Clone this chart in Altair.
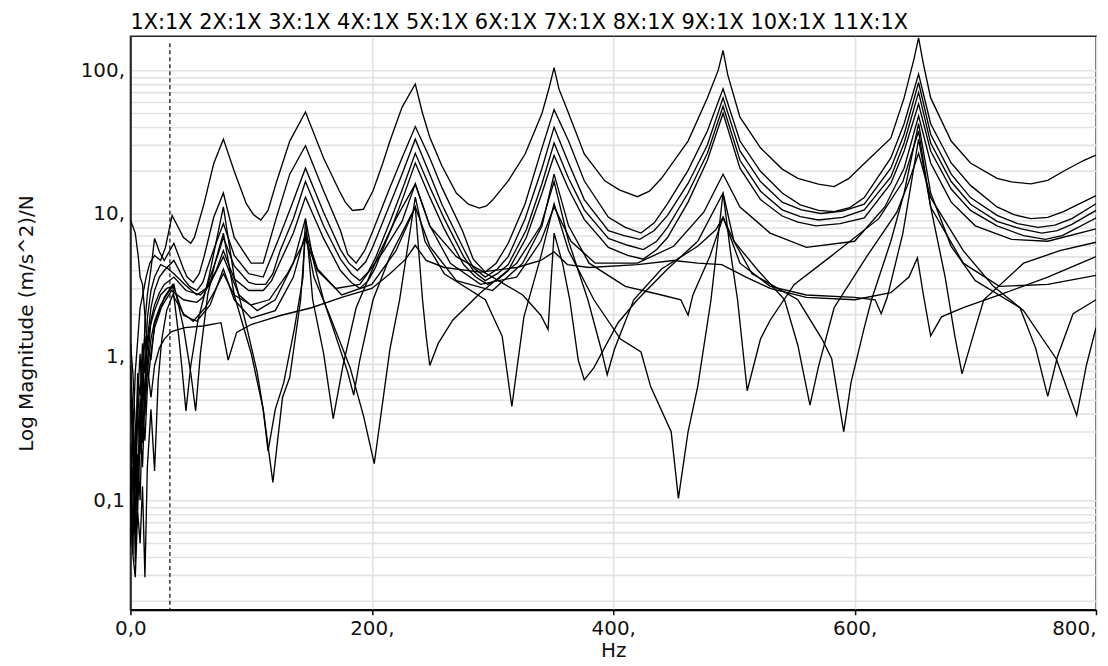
import altair as alt
import pandas as pd

title_text = "1X:1X 2X:1X 3X:1X 4X:1X 5X:1X 6X:1X 7X:1X 8X:1X 9X:1X 10X:1X 11X:1X"
curve_names = ["1X:1X", "2X:1X", "3X:1X", "4X:1X", "5X:1X", "6X:1X",
               "7X:1X", "8X:1X", "9X:1X", "10X:1X", "11X:1X"]
cursor_hz = [32.7]
x_ticks = [0, 200, 400, 600, 800]
y_grid = [0.02, 0.03, 0.04, 0.05, 0.06, 0.07, 0.08, 0.09,
          0.1, 0.2, 0.3, 0.4, 0.5, 0.6, 0.7, 0.8, 0.9,
          1, 2, 3, 4, 5, 6, 7, 8, 9,
          10, 20, 30, 40, 50, 60, 70, 80, 90, 100]

# (Hz, magnitude) pairs
c01 = [(0,0.5),(2,0.26),(4,0.78),(6,1.3),(8,2.2),(10,2.65),(13,3.6),(16,4.5),(20,5.1),(25,4.7),(29,5.8),(34.5,9.7),(44,6.8),(50,6.2),(53,6.8),(61,11.7),(69,22.3),(77,33),(86,19.7),(96,11.7),(102,9.8),(108,9),(114,10.5),(121,16.6),(132,32),(145,51),(160,24.4),(173,14.4),(178,12),(184,10.5),(193,10.7),(201,14.4),(209,22.3),(215,32),(225,55),(236,80),(242,50),(248,34),(258,21.5),(270,13.9),(280,11.6),(289,10.9),(295,11.3),(300,12.4),(313,16.9),(327,26),(341,50),(347,76),(351,104),(355,74),(363,50),(376,26),(393,16.9),(405,14.6),(420,13.1),(430,14.3),(440,17.6),(462,32),(478,64),(487,100),(491,137),(495,92),(505,47),(522,28.7),(540,20.4),(553,17.6),(570,16),(583,15.4),(595,17.5),(608,22.3),(630,33.5),(641,64),(649,118),(653,168),(657,110),(663,64),(680,32),(696,22.5),(718,17.6),(730,16.6),(746,16.1),(760,17),(773,19.7),(790,23.5),(800,25.5)]
c02 = [(0,0.25),(2,0.066),(4,0.125),(6,0.52),(8,1.05),(10,0.43),(12,1.75),(14,2.7),(17,4.1),(20,6.7),(24,5.4),(28,4.7),(36,6.2),(44,4.1),(47,3.6),(52,3.3),(57,3.8),(61,5),(69,9.4),(77,13.9),(86,6.8),(100,4.5),(110,4.5),(121,9.4),(132,18.8),(145,29.7),(160,14.4),(174,7.6),(180,5.2),(187,4.5),(194,5.5),(201,7.6),(215,15.2),(225,24.4),(236,40.4),(248,24.4),(258,15.2),(275,7.6),(284,4.8),(294,3.9),(303,4.5),(313,6.2),(327,11.7),(341,28.7),(351,53),(363,32),(376,16.9),(396,9.4),(410,8),(423,7.3),(434,8.6),(445,11.7),(462,20),(478,37.6),(491,74),(505,32),(522,19.7),(540,13.9),(555,11.5),(570,10.5),(583,10.3),(596,11),(608,12.9),(630,24.4),(641,42.3),(653,94),(663,42.3),(680,22.5),(696,15.7),(718,11.1),(732,9.8),(746,9.2),(760,9.4),(773,10.3),(800,13.3)]
c03 = [(0,1.25),(2,0.78),(4,0.34),(6,0.1),(8,0.26),(10,0.78),(12,0.52),(14,1.3),(17,2.2),(20,2.9),(24,3.6),(28,4),(36,4.7),(44,3.5),(49,3.1),(55,2.9),(60,3.3),(63,4),(70,5.9),(77,8.5),(86,5.1),(98,3.8),(110,3.6),(122,6.4),(133,11.1),(145,20.7),(160,10.2),(174,5.6),(181,4.5),(188,4),(195,4.6),(201,5.9),(215,11.6),(225,18.8),(236,33),(248,18.8),(258,11.6),(275,5.9),(284,4.2),(294,3.6),(304,4.1),(313,5),(327,9.2),(341,20.7),(351,40),(363,22.5),(376,12.5),(396,7.6),(409,7),(422,6.6),(434,7.6),(445,9.7),(462,16.2),(478,30),(491,64),(505,27.3),(522,16.7),(540,12),(556,10.6),(572,10),(590,10.4),(608,11.6),(630,20.7),(641,35.7),(653,82),(663,35.7),(680,18.8),(696,12.9),(718,9.7),(735,8.5),(752,8),(766,8.3),(780,9.2),(800,11.7)]
c04 = [(0,0.047),(2,0.17),(4,0.075),(6,0.43),(8,0.21),(10,0.97),(12,1.4),(14,0.87),(17,1.8),(20,2.3),(24,2.8),(28,3.2),(36,3.6),(46,2.9),(52,2.8),(58,2.7),(63,3),(66,3.6),(72,5),(77,6.8),(86,4.3),(98,3.3),(104,3.2),(112,3.2),(118,3.8),(124,5.5),(135,9.2),(145,16.7),(160,8.2),(174,4.8),(183,3.8),(190,3.4),(197,3.9),(203,4.9),(216,9.2),(226,15.3),(236,26.3),(248,15.3),(260,9.2),(276,5),(285,3.9),(294,3.4),(304,3.8),(313,4.4),(328,7.7),(341,16.2),(351,31),(363,17.6),(376,10.6),(396,6.7),(412,6),(425,5.6),(436,6.4),(445,8),(462,13.9),(478,26.3),(491,56),(505,23.5),(522,14.3),(540,10.6),(555,9.5),(570,9),(590,9.4),(608,10.6),(630,18),(641,31),(653,70),(663,31),(680,16.7),(696,11.6),(718,8.8),(738,7.8),(755,7.3),(768,7.6),(780,8.4),(800,10.5)]
c05 = [(0,0.6),(2,0.3),(4,0.037),(6,0.125),(8,0.52),(10,0.25),(12,0.69),(14,1.24),(17,0.95),(20,1.7),(24,2.1),(28,2.4),(34,2.9),(44,2.5),(49,2.45),(55,2.4),(60,2.6),(64,3.1),(71,4),(77,5.5),(86,3.5),(98,2.9),(104,2.9),(110,2.9),(117,3.4),(124,4.6),(135,7.3),(145,13),(160,6.7),(174,4),(183,3.3),(190,3),(197,3.4),(203,4.2),(216,7.8),(226,13),(236,22.5),(248,13),(260,7.8),(276,4.4),(286,3.6),(296,3.2),(305,3.5),(313,4),(328,6.8),(341,13.9),(351,25.4),(363,14.8),(376,9.1),(396,5.8),(412,5.1),(425,4.8),(436,5.6),(445,6.8),(462,12),(478,23.5),(491,50),(505,20.7),(522,12.5),(540,9.6),(553,8.7),(568,8.2),(588,8.5),(608,9.3),(630,16.2),(641,27.3),(653,58),(663,27.3),(680,14.8),(696,10.5),(718,8.2),(740,7),(758,6.6),(772,7),(780,7.6),(800,9.3)]
c06 = [(0,0.125),(2,0.042),(4,0.26),(6,0.083),(8,0.34),(10,0.17),(12,0.52),(14,0.77),(17,1.33),(20,1.77),(25,2.3),(30,2.7),(36,3.2),(44,1.6),(50,0.77),(54,0.42),(58,1.06),(64,2.7),(70,4.5),(77,7.3),(86,2.7),(100,1.06),(110,0.43),(118,0.133),(126,0.52),(132,0.72),(141,2.5),(145,7.3),(152,3.6),(165,1.95),(182,0.84),(193,0.39),(202,0.18),(215,1.13),(223,2.5),(236,13),(244,6.4),(260,3.8),(294,2.5),(308,1.39),(316,0.45),(326,1.9),(340,5),(351,11.7),(363,5.5),(384,2.5),(406,1.33),(423,1.08),(431,0.62),(448,0.3),(454,0.103),(462,0.3),(470,0.62),(481,2.5),(491,13.9),(500,6.4),(515,3.8),(553,2.5),(573,1.33),(581,0.97),(591,0.3),(597,0.66),(608,1.6),(614,2.5),(630,6.4),(641,13.9),(653,42.3),(663,13.9),(680,5.9),(700,3.4),(737,2.2),(750,1.15),(760,0.53),(768,1.0),(781,2.0),(800,2.5)]
c07 = [(0,0.87),(2,0.43),(4,0.17),(6,0.6),(8,0.3),(10,0.69),(12,0.39),(14,0.87),(17,0.52),(20,0.87),(24,1.15),(28,1.33),(34,1.5),(45,1.6),(60,1.64),(75,1.73),(81,0.95),(88,1.48),(100,1.68),(125,1.95),(150,2.2),(175,2.6),(200,3.0),(215,3.8),(228,4.8),(236,6),(245,4.7),(260,4.2),(290,3.9),(320,4.2),(340,4.7),(351,5.4),(362,4.4),(380,4.2),(420,4.4),(450,4.7),(470,4.5),(490,4.4),(510,3.6),(530,3.0),(560,2.6),(600,2.5),(630,2.8),(645,3.6),(652,4.9),(657,2.7),(663,1.4),(672,1.9),(690,2.2),(720,2.7),(760,3.6),(800,5)]
c08 = [(0,9),(4,7.3),(6.5,5),(8,3.6),(10,3.2),(12,1.95),(14,1.15),(16,1.6),(20,2.1),(25,2.7),(30,3.0),(35,3.1),(40,1.4),(43,0.78),(46,0.42),(50,0.87),(56,1.8),(65,3.6),(77,11.1),(86,3.6),(95,1.8),(105,0.78),(110,0.43),(114,0.22),(120,0.43),(127,0.66),(136,1.6),(143,3.6),(145,9.2),(152,4.5),(160,2.5),(170,1.4),(180,0.78),(185,0.54),(190,0.95),(201,2.5),(215,5),(228,8.2),(236,11.1),(242,2.5),(245,1.4),(248,0.87),(255,1.24),(267,1.8),(290,2.8),(320,4.5),(340,8.2),(351,16.7),(363,6.4),(379,2.5),(390,1.13),(395,0.75),(401,1.13),(417,2.5),(440,4.1),(470,5.9),(485,7.7),(491,9.4),(500,6.4),(520,4),(542,2.5),(553,1.2),(563,0.46),(570,0.85),(583,2.2),(610,5),(635,10.2),(645,16.7),(653,26.3),(663,12.9),(690,5.5),(715,3.1),(740,2.1),(767,0.97),(784,0.39),(792,0.87),(800,1.6)]
c09 = [(0,0.049),(2,0.43),(4,0.125),(6,0.77),(8,0.52),(10,1.24),(12,0.77),(14,1.85),(17,2.9),(20,3.6),(25,4.4),(30,4.2),(36,3.8),(45,3.2),(55,2.7),(65,3.1),(77,5),(90,2.7),(105,2.1),(120,2.5),(135,4.5),(145,9.2),(151,2.5),(160,1.06),(168,0.37),(176,0.86),(187,2.2),(205,5),(220,9.2),(236,16),(248,8.2),(270,5),(300,3.6),(325,2.7),(340,1.95),(346,1.55),(351,7.3),(358,4.5),(364,2.5),(371,0.95),(376,0.69),(384,0.84),(404,1.73),(420,2.5),(445,4.1),(470,6.4),(491,13.9),(497,5.5),(503,2.5),(511,0.58),(522,1.33),(530,1.8),(550,3.2),(580,5),(620,9.2),(640,16.7),(653,37.6),(663,11.1),(675,3.6),(683,1.4),(689,0.76),(699,1.48),(707,2.5),(740,4.5),(770,5.5),(800,6.3)]
c10 = [(0,0.075),(2,0.34),(4,0.058),(6,0.21),(8,0.1),(10,0.43),(12,0.26),(14,0.6),(17,1.06),(20,1.6),(24,2.0),(28,2.6),(35,3.2),(44,1.95),(55,1.77),(66,2.3),(77,4.1),(86,2.5),(100,1.86),(120,2.1),(135,3.6),(145,7.3),(155,4.1),(175,2.7),(200,3.2),(220,5.5),(236,11.1),(248,5.9),(270,3.4),(300,2.9),(325,4.5),(341,8.2),(351,18.8),(363,8.2),(380,4.5),(410,3.1),(440,2.7),(456,2.5),(462,1.95),(466,2.7),(480,5),(491,9.4),(505,4.5),(530,3.1),(560,2.7),(600,2.6),(617,2.5),(622,2.0),(627,2.6),(640,7.3),(653,33),(663,11.1),(690,4.5),(720,3.1),(760,3.2),(800,3.7)]
c11 = [(0,0.17),(2,0.042),(4,0.029),(6,0.083),(8,0.05),(10,0.125),(12,0.029),(14,0.17),(17,0.43),(20,0.16),(23,0.69),(26,1.33),(30,2.1),(35,2.7),(44,2.0),(52,1.77),(62,2.2),(70,2.9),(77,3.8),(86,2.7),(100,2.3),(115,2.5),(130,3.8),(145,6.6),(155,4),(170,3),(190,3.2),(210,5.5),(225,8.8),(236,16.1),(248,8.2),(265,4.5),(290,3.2),(320,3.6),(340,6.4),(351,11.1),(365,6.4),(385,4.5),(420,4.5),(450,5.9),(475,10.2),(491,18.8),(505,11.1),(530,7.3),(560,5.8),(600,6.4),(625,11.1),(641,20.7),(653,48),(663,22.5),(680,12),(700,8.2),(730,6.6),(760,6.4),(800,7.8)]

all_curves = [c01, c02, c03, c04, c05, c06, c07, c08, c09, c10, c11]
rows = []
for name, pts in zip(curve_names, all_curves):
    for hz, mag in pts:
        rows.append({"curve": name, "hz": hz, "mag": mag})
df = pd.DataFrame(rows)

FONT = "DejaVu Sans"
GRID = "#e2e2e2"

x_enc = alt.X(
    "hz:Q",
    title="Hz",
    scale=alt.Scale(domain=[0, 800], nice=False, zero=False),
    axis=alt.Axis(
        values=x_ticks,
        labelExpr="datum.value == 0 ? '0,0' : datum.value + ','",
        labelFlush=False,
        labelOverlap=False,
        labelAlign={"condition": {"test": "datum.value == 800", "value": "right"}, "value": "center"},
        tickSize=5, tickColor="black", tickWidth=1.5,
        domainColor="black", domainWidth=2,
        grid=True, gridColor=GRID, gridWidth=1.6,
        labelPadding=4, titlePadding=2,
    ),
)

y_enc = alt.Y(
    "mag:Q",
    title="Log Magnitude (m/s^2)/N",
    scale=alt.Scale(type="log", domain=[0.0172, 172], nice=False),
    axis=alt.Axis(
        values=y_grid,
        labelExpr="datum.value == 100 ? '100,' : datum.value == 10 ? '10,' : datum.value == 1 ? '1,' : abs(datum.value - 0.1) < 1e-9 ? '0,1' : ''",
        labelOverlap=False,
        ticks=False,
        domainColor="black", domainWidth=1.5,
        grid=True, gridColor=GRID, gridWidth=1.6,
        labelPadding=6, titlePadding=44,
    ),
)

lines = alt.Chart(df).mark_line(color="black", strokeWidth=1.35, clip=True).encode(
    x=x_enc, y=y_enc, detail="curve:N"
)

cursor = alt.Chart(pd.DataFrame({"hz": cursor_hz})).mark_rule(
    color="black", strokeDash=[4, 3], strokeWidth=1.2
).encode(x=alt.X("hz:Q", title="Hz"), y=alt.value(7), y2=alt.value(576))

header = alt.Chart(pd.DataFrame({"t": [title_text]})).mark_text(
    align="left", baseline="alphabetic", font=FONT, fontSize=21, color="black"
).encode(text="t:N", x=alt.value(0), y=alt.value(-7))

chart = alt.layer(lines, cursor, header).properties(
    width=970,
    height=576,
    padding={"left": 123, "top": 27, "right": 4, "bottom": 51},
    autosize=alt.AutoSizeParams(type="none"),
).configure_view(
    stroke="#222", strokeWidth=1.5
).configure_axis(
    labelFont=FONT, labelFontSize=20, labelColor="#111",
    titleFont=FONT, titleFontSize=20, titleFontWeight="normal", titleColor="#111",
)

chart.save("out.html", embed_options={"renderer": "svg", "actions": False})
